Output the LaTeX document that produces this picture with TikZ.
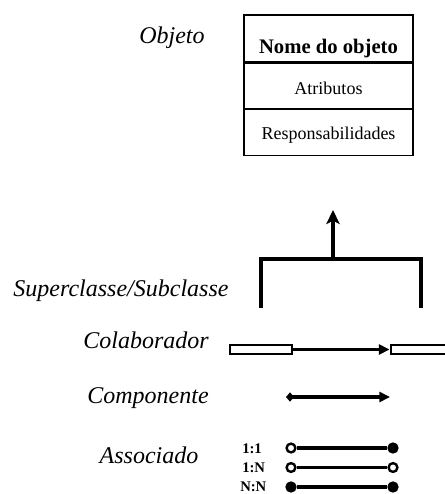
\documentclass[tikz,border=0pt]{standalone}
\usepackage{fontspec}
\setmainfont{Liberation Serif}
\usetikzlibrary{arrows.meta}
\begin{document}
\begin{tikzpicture}[x=0.75pt,y=-0.75pt,
  lab/.style={font=\fontsize{18}{20}\selectfont\itshape, inner sep=0pt, anchor=base},
  cell/.style={draw, line width=1pt, minimum width=126.75pt, inner sep=0pt},
  celltext/.style={inner sep=0pt, anchor=base, font=\fontsize{13.5}{15}\selectfont},
  titletext/.style={inner sep=0pt, anchor=base, font=\fontsize{15.5}{17}\selectfont\bfseries},
  heavy/.style={line width=2.5pt},
  crect/.style={draw, line width=1.5pt, minimum width=46.5pt, minimum height=7pt, inner sep=0pt},
  ocirc/.style={circle, draw, fill=white, line width=1.8pt, minimum size=6.6pt, inner sep=0pt},
  fcirc/.style={circle, draw, fill=black, line width=1.8pt, minimum size=6.6pt, inner sep=0pt},
  ratio/.style={inner sep=0pt, anchor=base west, font=\fontsize{11}{12}\selectfont\bfseries},
]
\useasboundingbox (0,0) rectangle (444,494);

% labels
\node[lab] (lobj) at (172,43) {Objeto};
\node[lab] (lsup) at (121,296) {Superclasse/Subclasse};
\node[lab] (lcol) at (146,348) {Colaborador};
\node[lab] (lcom) at (148,403) {Componente};
\node[lab] (lass) at (149,463) {Associado};

% object box
\node[cell, minimum height=35.25pt] (c1) at (328.5,38.5) {};
\node[cell, minimum height=33.75pt, anchor=north] (c2) at (c1.south) {};
\node[cell, minimum height=34.5pt, anchor=north] (c3) at (c2.south) {};
\node[titletext] (t1) at (328.5,53) {Nome do objeto};
\node[celltext] (t2) at (328.5,94) {Atributos};
\node[celltext] (t3) at (328.5,139) {Responsabilidades};

% superclass / subclass
\coordinate (sl) at (261,308);
\coordinate (sr) at (421,308);
\coordinate (sm) at (333,259);
\coordinate (stip) at (333,210);
\draw[heavy, line join=miter] (sl) |- (sm) -| (sr);
\draw[heavy, -{Stealth[length=10.5pt,width=10pt,inset=2.5pt]}] (sm) -- (stip);

% colaborador
\node[crect] (r1) at (260.5,349.5) {};
\node[crect] (r2) at (421.5,349.5) {};
\draw[line width=2.3pt, -{Triangle[length=8pt,width=7.5pt]}] (r1.east) -- (r2.west);

% componente
\coordinate (k1) at (286,397);
\coordinate (k2) at (390,397);
\draw[line width=2.3pt, {Diamond[length=6pt,width=7pt]}-{Triangle[length=8pt,width=7.5pt]}] (k1) -- (k2);

% associado
\node[ocirc] (a1l) at (291,448) {};
\node[fcirc] (a1r) at (393,448) {};
\node[ocirc] (a2l) at (291,467.5) {};
\node[ocirc] (a2r) at (393,467.5) {};
\node[fcirc] (a3l) at (291,487) {};
\node[fcirc] (a3r) at (393,487) {};
\draw[heavy] (a1l) -- (a1r);
\draw[heavy] (a2l) -- (a2r);
\draw[heavy] (a3l) -- (a3r);
\node[ratio] (n1) at (242,453) {1:1};
\node[ratio] (n2) at (242,472) {1:N};
\node[ratio] (n3) at (240,491) {N:N};
\end{tikzpicture}
\end{document}
